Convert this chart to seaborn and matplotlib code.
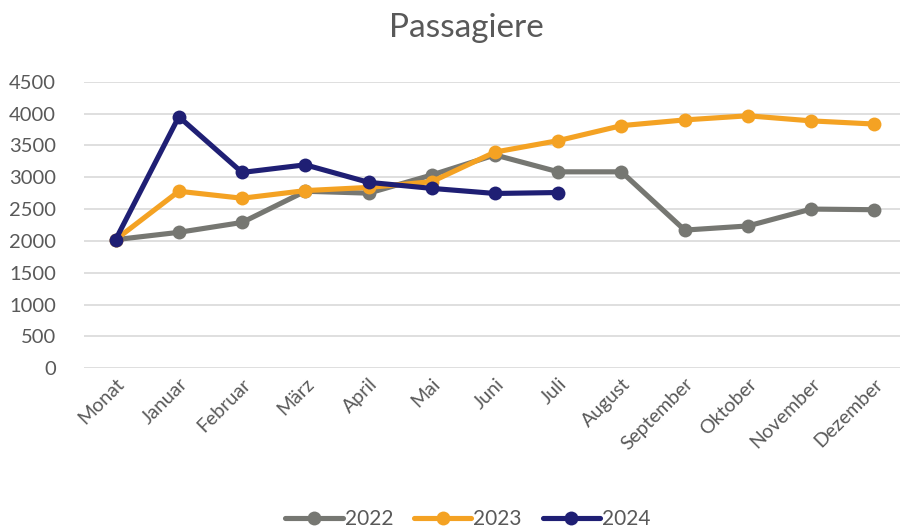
import pandas as pd
import matplotlib.pyplot as plt
import seaborn as sns

# Monthly passenger counts
months = ['Monat', 'Januar', 'Februar', 'März', 'April', 'Mai', 'Juni', 'Juli',
          'August', 'September', 'Oktober', 'November', 'Dezember']
values_2022 = [2020, 2135, 2290, 2780, 2750, 3035, 3350, 3085, 3085, 2170, 2235, 2500, 2490]
values_2023 = [2020, 2780, 2670, 2790, 2840, 2930, 3395, 3575, 3810, 3900, 3965, 3885, 3835]
values_2024 = [2020, 3950, 3075, 3195, 2920, 2825, 2745, 2760]
years = ['2022', '2023', '2024']
colors = ['#767772', '#F4A223', '#1F1F74']

rows = []
for year, vals in zip(years, [values_2022, values_2023, values_2024]):
    for m, v in zip(months, vals):
        rows.append({'Monat': m, 'Passagiere': v, 'Jahr': year})
df = pd.DataFrame(rows)

sns.set_style('white')
plt.rcParams['font.family'] = ['Lato', 'DejaVu Sans']

fig = plt.figure(figsize=(9, 5.31), dpi=100)
ax = fig.add_axes([84 / 900, (531 - 368.3) / 531, (906 - 84) / 900, (368.3 - 81.7) / 531])

sns.lineplot(data=df, x='Monat', y='Passagiere', hue='Jahr', palette=colors,
             marker='o', markersize=10, markeredgewidth=0, linewidth=3.7,
             sort=False, ax=ax, legend=False)

ax.set_xlim(-0.5, 12.5)
ax.set_ylim(0, 4500)
ax.set_yticks(range(0, 4501, 500))
ax.grid(axis='y', color='#d9d9d9', linewidth=1.2)
ax.set_axisbelow(True)
for s in ax.spines.values():
    s.set_visible(False)
ax.set_xlabel('')
ax.set_ylabel('')
ax.tick_params(axis='both', length=0, labelsize=14.5, labelcolor='#595959')
ax.tick_params(axis='y', pad=20)
ax.tick_params(axis='x', labelsize=14, pad=5)
ax.set_xticks(range(len(months)))
ax.set_xticklabels(months, rotation=45, ha='right', rotation_mode='anchor')

fig.text(0.518, 0.948, 'Passagiere', ha='center', va='center', fontsize=24, color='#595959')

handles = [plt.Line2D([], [], color=c, linewidth=3.7, marker='o', markersize=10,
                      markeredgewidth=0) for c in colors]
fig.legend(handles, years, loc='center', bbox_to_anchor=(0.52, 0.022), ncol=3,
           frameon=False, fontsize=15, labelcolor='#595959', handlelength=2.75,
           handletextpad=0.1, columnspacing=1.0)

fig.savefig('out.png', dpi=100)
